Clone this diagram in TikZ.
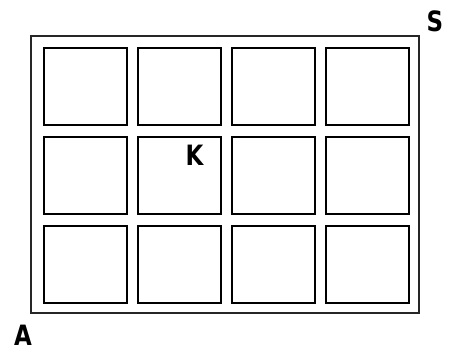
\documentclass[tikz,border=0pt]{standalone}
\usepackage{fontspec}
\newfontfamily\lblfont{DejaVu Sans}[FakeStretch=0.82]
\tikzset{
  cell/.style={draw=black, line width=1.6pt, minimum width=83pt, minimum height=77pt, inner sep=0pt, anchor=north west},
  frame/.style={draw=black!85, line width=1.8pt},
  lbl/.style={font=\lblfont\bfseries\fontsize{28}{28}\selectfont, inner sep=0pt}
}
\begin{document}
\begin{tikzpicture}[x=1pt,y=1pt]
\useasboundingbox (0,0) rectangle (454,351);
\draw[frame] (31,351-36) rectangle (419,351-313);
\foreach \r/\yt in {0/47,1/136,2/225}{
  \foreach \c/\xl in {0/43,1/137,2/231,3/325}{
    \node[cell] (c\r\c) at (\xl,351-\yt) {};
  }
}
\node[lbl] (S) at (435,351-21) {S};
\node[lbl] (A) at (23,351-335) {A};
\node[lbl] (K) at (194.5,351-155.5) {K};
\end{tikzpicture}
\end{document}
